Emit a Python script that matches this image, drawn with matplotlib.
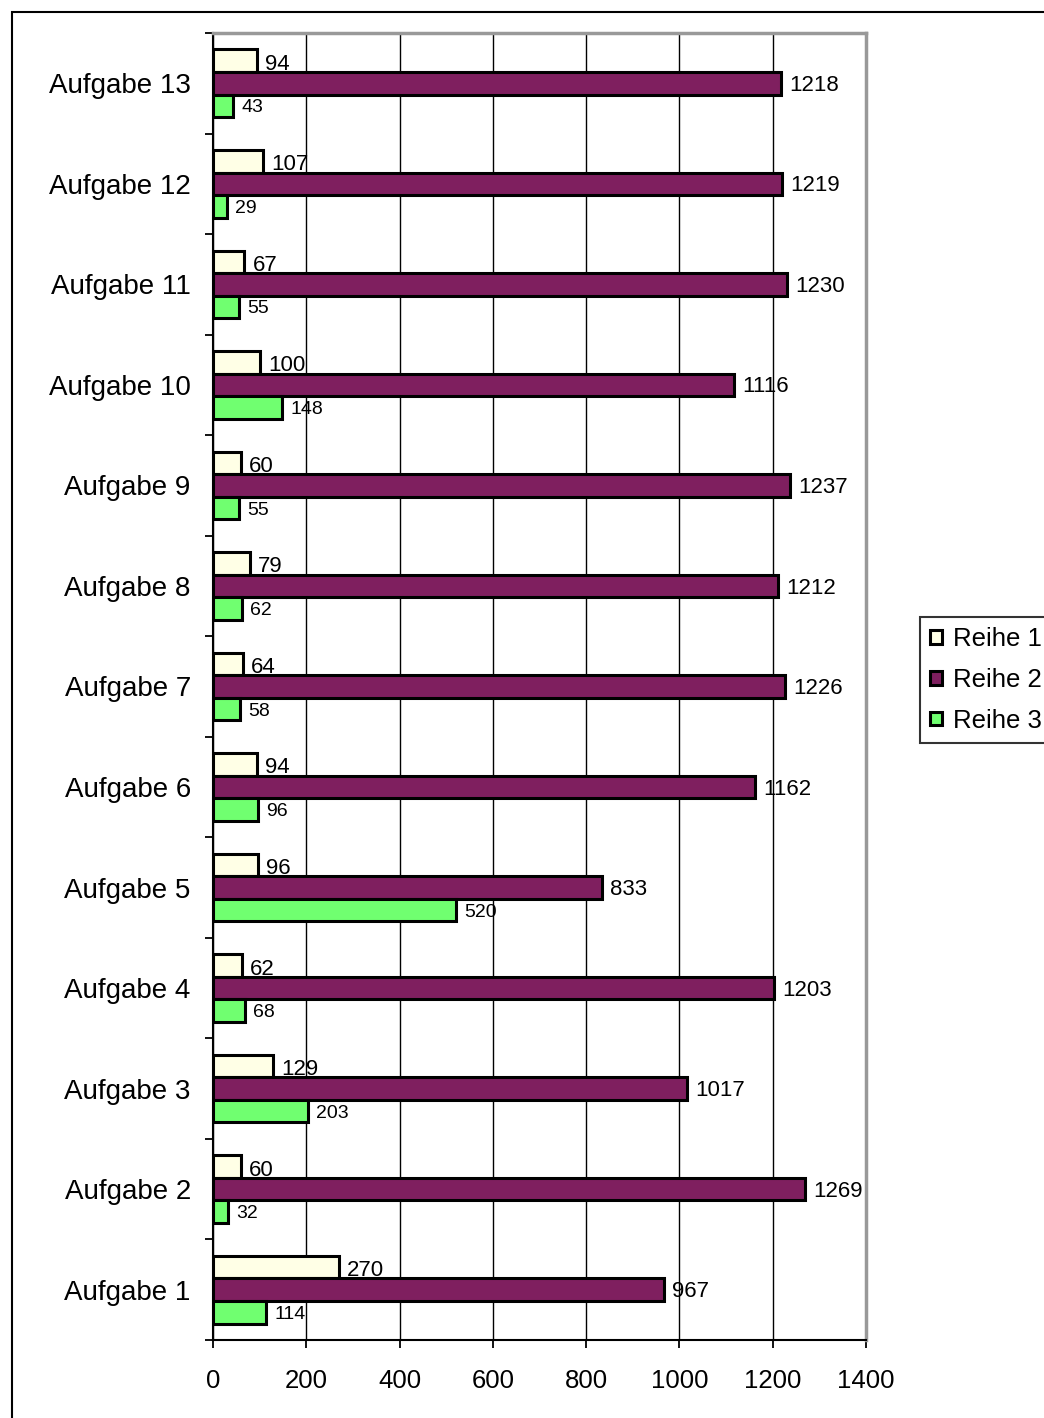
import matplotlib
matplotlib.use("Agg")
import matplotlib.pyplot as plt
import numpy as np
from matplotlib.patches import Rectangle, Patch

plt.rcParams["font.family"] = ["Liberation Sans", "DejaVu Sans"]

# ── Daten ──────────────────────────────────────
aufgaben = [f"Aufgabe {i}" for i in range(1, 14)]
reihe1 = [270, 60, 129, 62, 96, 94, 64, 79, 60, 100, 67, 107, 94]
reihe2 = [967, 1269, 1017, 1203, 833, 1162, 1226, 1212, 1237, 1116, 1230, 1219, 1218]
reihe3 = [114, 32, 203, 68, 520, 96, 58, 62, 55, 148, 55, 29, 43]
x_ticks = [0, 200, 400, 600, 800, 1000, 1200, 1400]

C1 = "#FFFFE6"
C2 = "#7F1F5F"
C3 = "#70FF70"

W, H = 1044, 1418
fig = plt.figure(figsize=(W / 100, H / 100), dpi=100)
ax = fig.add_axes([213 / W, 1 - 1340 / H, (866 - 213) / W, (1340 - 33) / H])

# äußerer Rahmen
fig.patches.append(Rectangle((12 / W, -0.1), 1.2, 1.1 - 12 / H, transform=fig.transFigure,
                             fill=False, edgecolor="black", lw=1.5, zorder=0))

y = np.arange(len(aufgaben))
bw = 0.224
series = [(reihe1, C1, bw, "Reihe 1", 16, -2.5), (reihe2, C2, 0, "Reihe 2", 16, -1.5),
          (reihe3, C3, -bw, "Reihe 3", 14, -1.5)]
for vals, col, off, name, fs, dy in series:
    bars = ax.barh(y + off, vals, height=bw, color=col, edgecolor="black",
                   linewidth=2.2, zorder=3, label=name)
    for b, v in zip(bars, vals):
        ax.annotate(str(v), (b.get_width(), b.get_y() + b.get_height() / 2),
                    xytext=(6, dy), textcoords="offset points",
                    ha="left", va="center", fontsize=fs, zorder=4)

ax.set_xlim(0, 1400)
ax.set_ylim(-0.5, len(aufgaben) - 0.5)
ax.set_xticks(x_ticks)
ax.set_xticklabels([str(t) for t in x_ticks], fontsize=18.5)
ax.set_yticks(y)
ax.set_yticklabels(aufgaben, fontsize=20)
ax.set_yticks(np.arange(-0.5, len(aufgaben), 1), minor=True)
ax.tick_params(axis="y", which="major", length=0, pad=16)
ax.tick_params(axis="y", which="minor", length=6, width=1.3, direction="out")
ax.tick_params(axis="x", length=6, width=1.3, direction="out", pad=15)
ax.xaxis.grid(True, color="black", lw=1.0, zorder=0)
ax.set_axisbelow(True)

ax.spines["left"].set_linewidth(1.5)
ax.spines["bottom"].set_linewidth(1.5)
ax.spines["top"].set_color("#999999")
ax.spines["right"].set_color("#999999")
ax.spines["top"].set_linewidth(2.5)
ax.spines["right"].set_linewidth(2.5)

handles = [Patch(facecolor=c, edgecolor="black", linewidth=2.2) for c in (C1, C2, C3)]
leg = fig.legend(handles, ["Reihe 1", "Reihe 2", "Reihe 3"], loc="upper left",
                 bbox_to_anchor=(920 / W, 1 - 617 / H), fontsize=18.5,
                 frameon=True, fancybox=False, edgecolor="black",
                 handlelength=0.45, handleheight=0.45, handletextpad=0.42,
                 borderpad=0.4, labelspacing=0.65, borderaxespad=0)
leg.get_frame().set_linewidth(1.5)

fig.savefig("out.png", dpi=100, facecolor="white")
